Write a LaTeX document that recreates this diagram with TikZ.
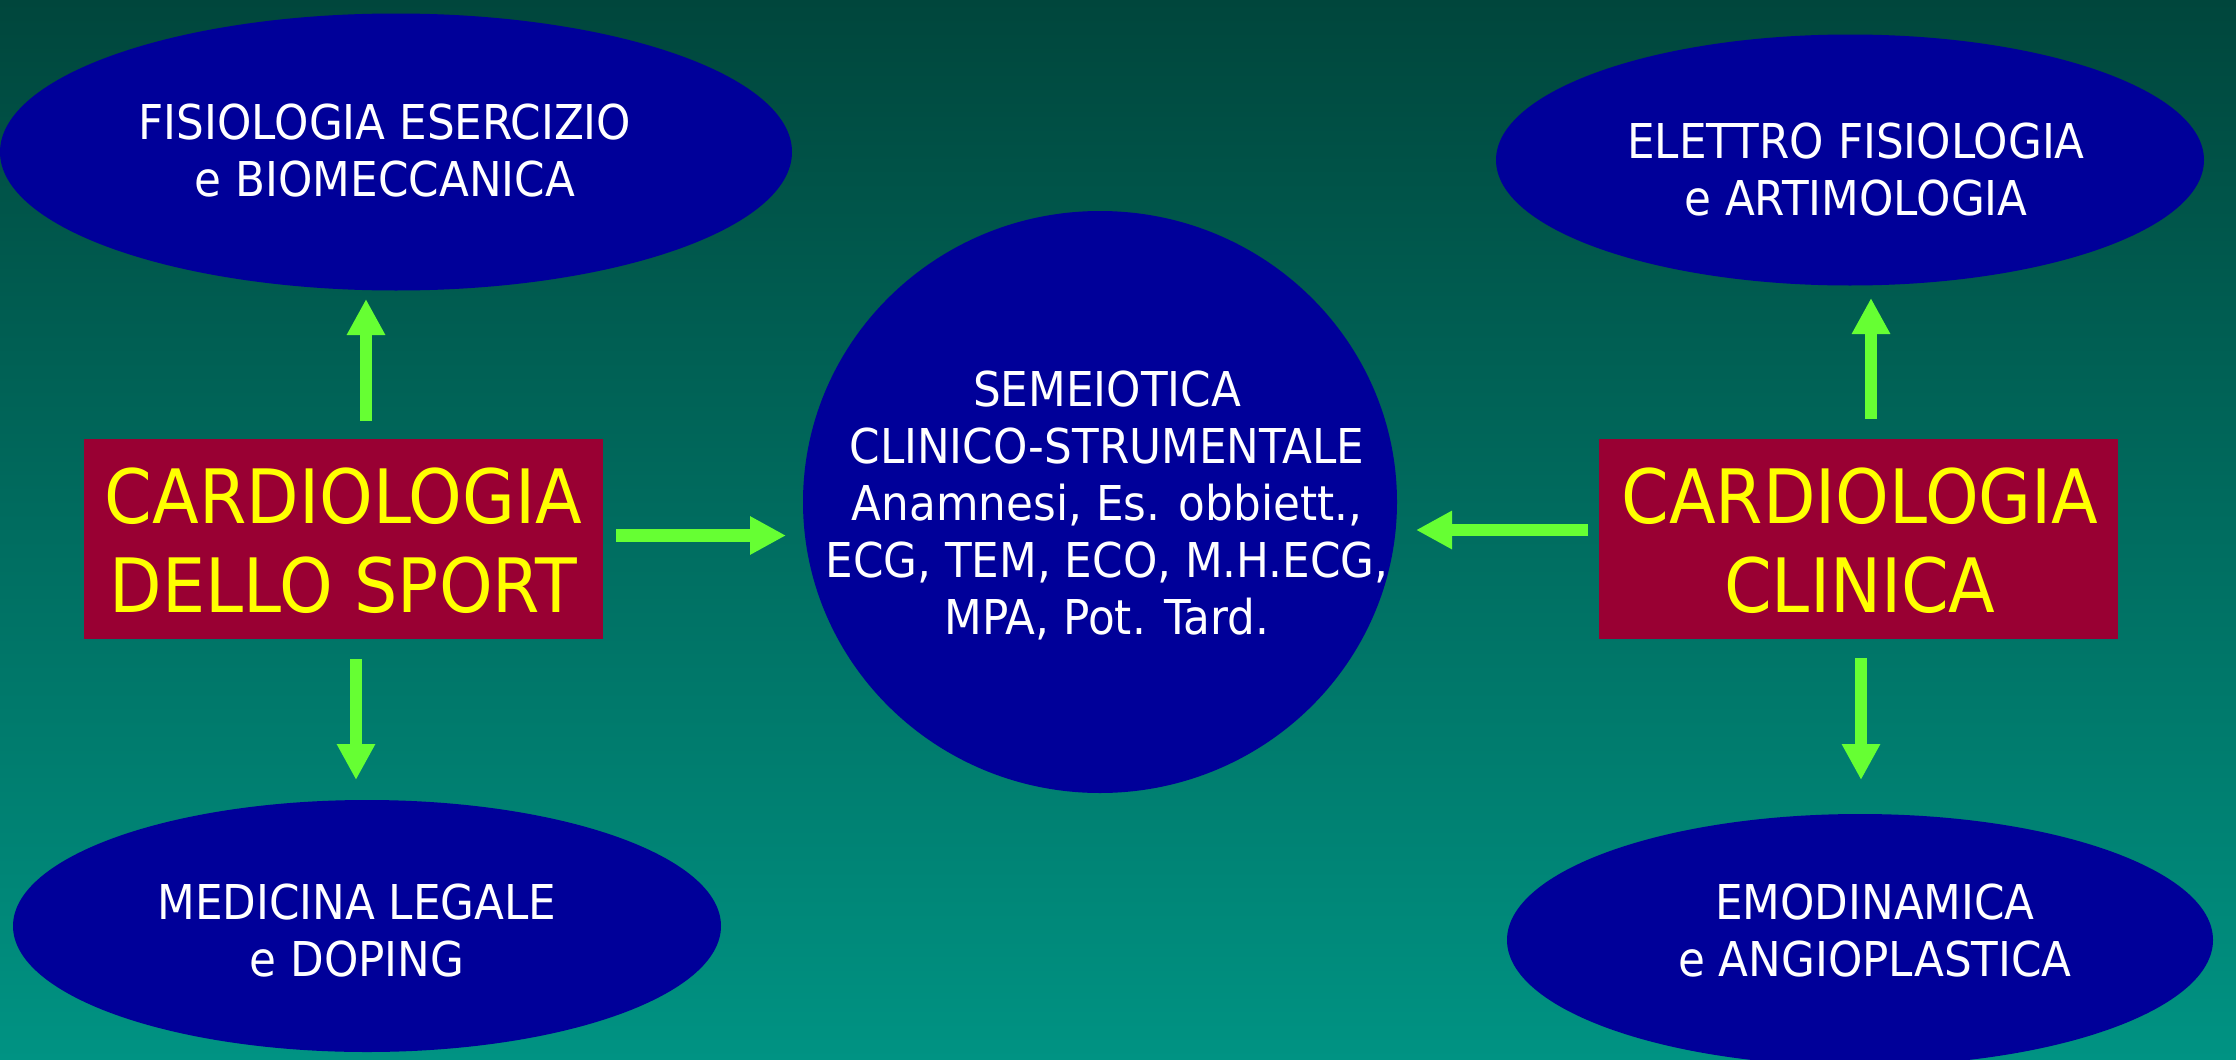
\documentclass[tikz,border=0pt]{standalone}
\usepackage{fontspec}
\setmainfont{DejaVu Sans}[FakeStretch=0.91]
\usetikzlibrary{arrows.meta,shapes.geometric}
\definecolor{bgtop}{RGB}{0,70,60}
\definecolor{bgbot}{RGB}{0,147,131}
\definecolor{ovalblue}{RGB}{0,0,153}
\definecolor{boxred}{RGB}{153,0,51}
\definecolor{txtyellow}{RGB}{255,255,0}
\definecolor{arrowgreen}{RGB}{102,255,51}
\tikzset{
  oval/.style={ellipse, fill=ovalblue, draw=none, inner sep=0pt, outer sep=0pt},
  ovaltext/.style={text=white, align=center, inner sep=0pt,
    font=\fontsize{48}{57}\selectfont},
  topic/.style={rectangle, fill=boxred, draw=none, inner sep=0pt, outer sep=0pt,
    minimum width=519pt, minimum height=200pt},
  topictext/.style={text=txtyellow, align=center, inner sep=0pt,
    font=\fontsize{75}{89}\selectfont},
  garrow/.style={draw=arrowgreen, line width=12.5pt,
    -{Triangle[width=36pt,length=36pt]}}
}
\begin{document}
\begin{tikzpicture}[x=1pt,y=-1pt]
\useasboundingbox (0,0) rectangle (2236,1060);
\clip (0,0) rectangle (2236,1060);
\shade[top color=bgtop, bottom color=bgbot] (0,0) rectangle (2236,1060);

\node[oval, minimum width=792pt, minimum height=277pt] (fis) at (396,152) {};
\node[ovaltext] (fist) at (385,151) {FISIOLOGIA ESERCIZIO\\e BIOMECCANICA};
\node[oval, minimum width=708pt, minimum height=251pt] (ele) at (1850,160) {};
\node[ovaltext] (elet) at (1856,169.5) {ELETTRO FISIOLOGIA\\e ARTIMOLOGIA};
\node[oval, minimum width=708pt, minimum height=252pt] (med) at (367,926) {};
\node[ovaltext] (medt) at (357,931) {MEDICINA LEGALE\\e DOPING};
\node[oval, minimum width=706pt, minimum height=252pt] (emo) at (1860,940) {};
\node[ovaltext] (emot) at (1875,931) {EMODINAMICA\\e ANGIOPLASTICA};
\node[oval, minimum width=594pt, minimum height=582pt] (sem) at (1100,502) {};
\node[ovaltext] (semt) at (1107,505) {SEMEIOTICA\\CLINICO-STRUMENTALE\\Anamnesi, Es. obbiett.,\\ECG, TEM, ECO, M.H.ECG,\\MPA, Pot. Tard.};

\node[topic] (sport) at (343.5,538.5) {};
\node[topictext] (sportt) at (343.5,541) {CARDIOLOGIA\\DELLO SPORT};
\node[topic] (clin) at (1858.5,539) {};
\node[topictext] (clint) at (1860,541) {CARDIOLOGIA\\CLINICA};

\coordinate (a1s) at (366,421);   \coordinate (a1e) at (366,299);
\coordinate (a2s) at (356,659);   \coordinate (a2e) at (356,780);
\coordinate (a3s) at (616,535.5); \coordinate (a3e) at (786,535.5);
\coordinate (a4s) at (1871,419);  \coordinate (a4e) at (1871,298);
\coordinate (a5s) at (1861,658);  \coordinate (a5e) at (1861,780);
\coordinate (a6s) at (1588,530);  \coordinate (a6e) at (1416,530);

\draw[garrow] (a1s) -- (a1e);
\draw[garrow] (a2s) -- (a2e);
\draw[garrow] (a3s) -- (a3e);
\draw[garrow] (a4s) -- (a4e);
\draw[garrow] (a5s) -- (a5e);
\draw[garrow] (a6s) -- (a6e);
\end{tikzpicture}
\end{document}
